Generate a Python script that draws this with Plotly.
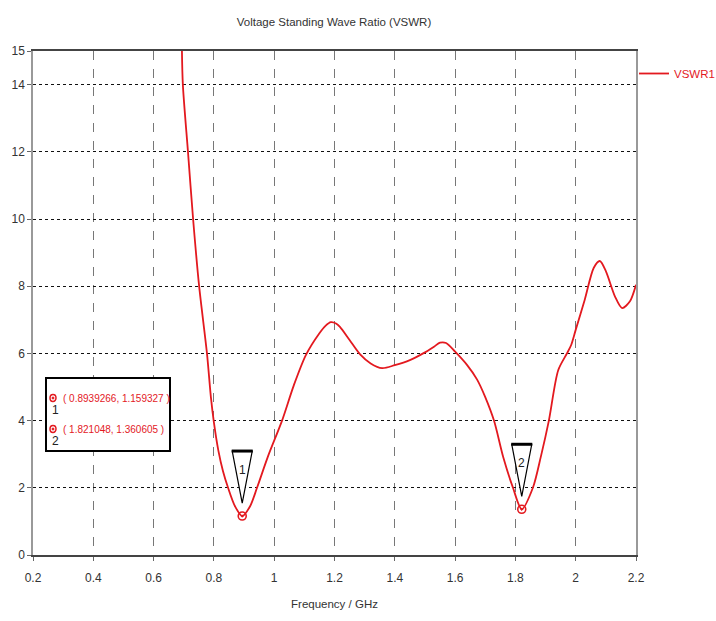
import plotly.graph_objects as go

# VSWR sweep (frequency in GHz)
freq_ghz = [0.694, 0.697, 0.714, 0.731, 0.751, 0.777, 0.790, 0.800, 0.815, 0.830, 0.847, 0.870,
            0.8939266, 0.920, 0.943, 0.980, 1.026, 1.065, 1.105, 1.150, 1.170, 1.188, 1.205,
            1.218, 1.250, 1.285, 1.320, 1.358, 1.400, 1.450, 1.494, 1.530, 1.550, 1.570,
            1.600, 1.640, 1.673, 1.700, 1.729, 1.760, 1.792, 1.821048, 1.858, 1.885, 1.911,
            1.942, 1.971, 1.985, 2.000, 2.030, 2.060, 2.080, 2.100, 2.130, 2.154, 2.180, 2.200]
vswr = [15.0, 14.0, 12.0, 10.0, 8.0, 6.0, 4.7, 3.95, 3.1, 2.5, 2.0, 1.45,
        1.159327, 1.45, 2.0, 2.95, 4.0, 5.05, 5.95, 6.6, 6.82, 6.93, 6.89,
        6.79, 6.4, 5.97, 5.7, 5.56, 5.65, 5.8, 6.0, 6.2, 6.32, 6.31,
        6.05, 5.65, 5.22, 4.7, 4.0, 2.9, 2.0, 1.360605, 2.0, 2.95, 4.0,
        5.5, 6.0, 6.25, 6.7, 7.6, 8.55, 8.75, 8.45, 7.7, 7.35, 7.55, 8.04]

# Marker readouts
marker_ids = ["1", "2"]
marker_freq = [0.8939266, 1.821048]
marker_vswr = [1.159327, 1.360605]

x_ticks = [0.2, 0.4, 0.6, 0.8, 1.0, 1.2, 1.4, 1.6, 1.8, 2.0, 2.2]
x_tick_text = ["0.2", "0.4", "0.6", "0.8", "1", "1.2", "1.4", "1.6", "1.8", "2", "2.2"]
y_ticks = [0, 2, 4, 6, 8, 10, 12, 14, 15]

RED = "#e3191f"
FONT = "Liberation Sans, Arial, sans-serif"
TXT = "#333333"

# plot-area geometry in pixels
L, R, T, B = 33, 80, 51, 66
PW, PH = 716 - L - R, 621 - T - B


def px(xp):
    return (xp - L) / PW


def py(yp):
    return (621 - B - yp) / PH


fig = go.Figure()
fig.add_trace(go.Scatter(
    x=freq_ghz, y=vswr, mode="lines", name="VSWR1",
    line=dict(color=RED, width=1.8, shape="spline", smoothing=0.8),
))
fig.add_trace(go.Scatter(
    x=marker_freq, y=marker_vswr, mode="markers", showlegend=False,
    marker=dict(symbol="circle-open-dot", size=8, color=RED, line=dict(width=1.6)),
))

# Triangular marker flags above each marked point (pixel offsets from the point)
for mid, fx, fy in zip(marker_ids, marker_freq, marker_vswr):
    fig.add_shape(type="path", xref="x", yref="y", xsizemode="pixel", ysizemode="pixel",
                  xanchor=fx, yanchor=fy, layer="above",
                  path="M -10 65 L 10 65 L 0 13 Z",
                  line=dict(color="black", width=1.2), fillcolor="white")
    fig.add_shape(type="path", xref="x", yref="y", xsizemode="pixel", ysizemode="pixel",
                  xanchor=fx, yanchor=fy, layer="above",
                  path="M -10.5 65 L 10.5 65",
                  line=dict(color="black", width=3))
    fig.add_annotation(x=fx, y=fy, xref="x", yref="y", text=mid, showarrow=False,
                       yshift=46, font=dict(family=FONT, size=12, color="#222"))

# Marker readout box
fig.add_shape(type="rect", xref="paper", yref="paper", layer="above",
              x0=px(46), x1=px(170), y0=py(451), y1=py(378), opacity=1,
              line=dict(color="black", width=2), fillcolor="white")
for i, (mid, fx, fy) in enumerate(zip(marker_ids, marker_freq, marker_vswr)):
    yp = 398 + 31 * i
    fig.add_shape(type="circle", xref="paper", yref="paper", layer="above",
                  xsizemode="pixel", ysizemode="pixel", xanchor=px(53), yanchor=py(yp),
                  x0=-3, x1=3, y0=-3.5, y1=3.5, line=dict(color=RED, width=1.5))
    fig.add_shape(type="circle", xref="paper", yref="paper", layer="above",
                  xsizemode="pixel", ysizemode="pixel", xanchor=px(53), yanchor=py(yp),
                  x0=-1, x1=1, y0=-1, y1=1, line=dict(color=RED, width=1), fillcolor=RED)
    fig.add_annotation(x=px(55), y=py(yp + 12), xref="paper", yref="paper",
                       xanchor="center", yanchor="middle",
                       text=mid, showarrow=False,
                       font=dict(family=FONT, size=12, color="#222"))
    fig.add_annotation(x=px(61), y=py(yp), xref="paper", yref="paper",
                       xanchor="left", yanchor="middle",
                       text=f"( {fx}, {fy} )", showarrow=False,
                       font=dict(family=FONT, size=10, color=RED))

fig.update_layout(
    width=716, height=621,
    margin=dict(l=L, r=R, t=T, b=B, autoexpand=False),
    paper_bgcolor="white", plot_bgcolor="white",
    title=dict(text="Voltage Standing Wave Ratio (VSWR)", x=334 / 716, xanchor="center",
               y=1 - 22 / 621, yanchor="middle",
               font=dict(family=FONT, size=11.5, color=TXT)),
    font=dict(family=FONT, size=12, color=TXT),
    showlegend=True,
    legend=dict(x=px(634), y=py(59), xanchor="left", yanchor="top",
                font=dict(family=FONT, size=11.5, color=RED),
                bgcolor="rgba(0,0,0,0)", itemwidth=30, tracegroupgap=0),
    xaxis=dict(range=[0.2, 2.2], tickvals=x_ticks, ticktext=x_tick_text,
               showgrid=True, gridcolor="#777777", griddash="dash", gridwidth=1,
               showline=True, linecolor="#444444", linewidth=2, mirror=True,
               ticks="outside", ticklen=4, tickcolor="#666666", zeroline=False,
               ticklabelstandoff=7,
               title=dict(text="Frequency / GHz", standoff=16,
                          font=dict(family=FONT, size=11.5, color=TXT))),
    yaxis=dict(range=[0, 15], tickvals=y_ticks,
               showgrid=True, gridcolor="#111111", griddash="dot", gridwidth=1,
               showline=True, linecolor="#999999", linewidth=1.5, mirror=True,
               ticks="outside", ticklen=4, tickcolor="#666666", zeroline=False),
)

fig.write_html("out.html")
